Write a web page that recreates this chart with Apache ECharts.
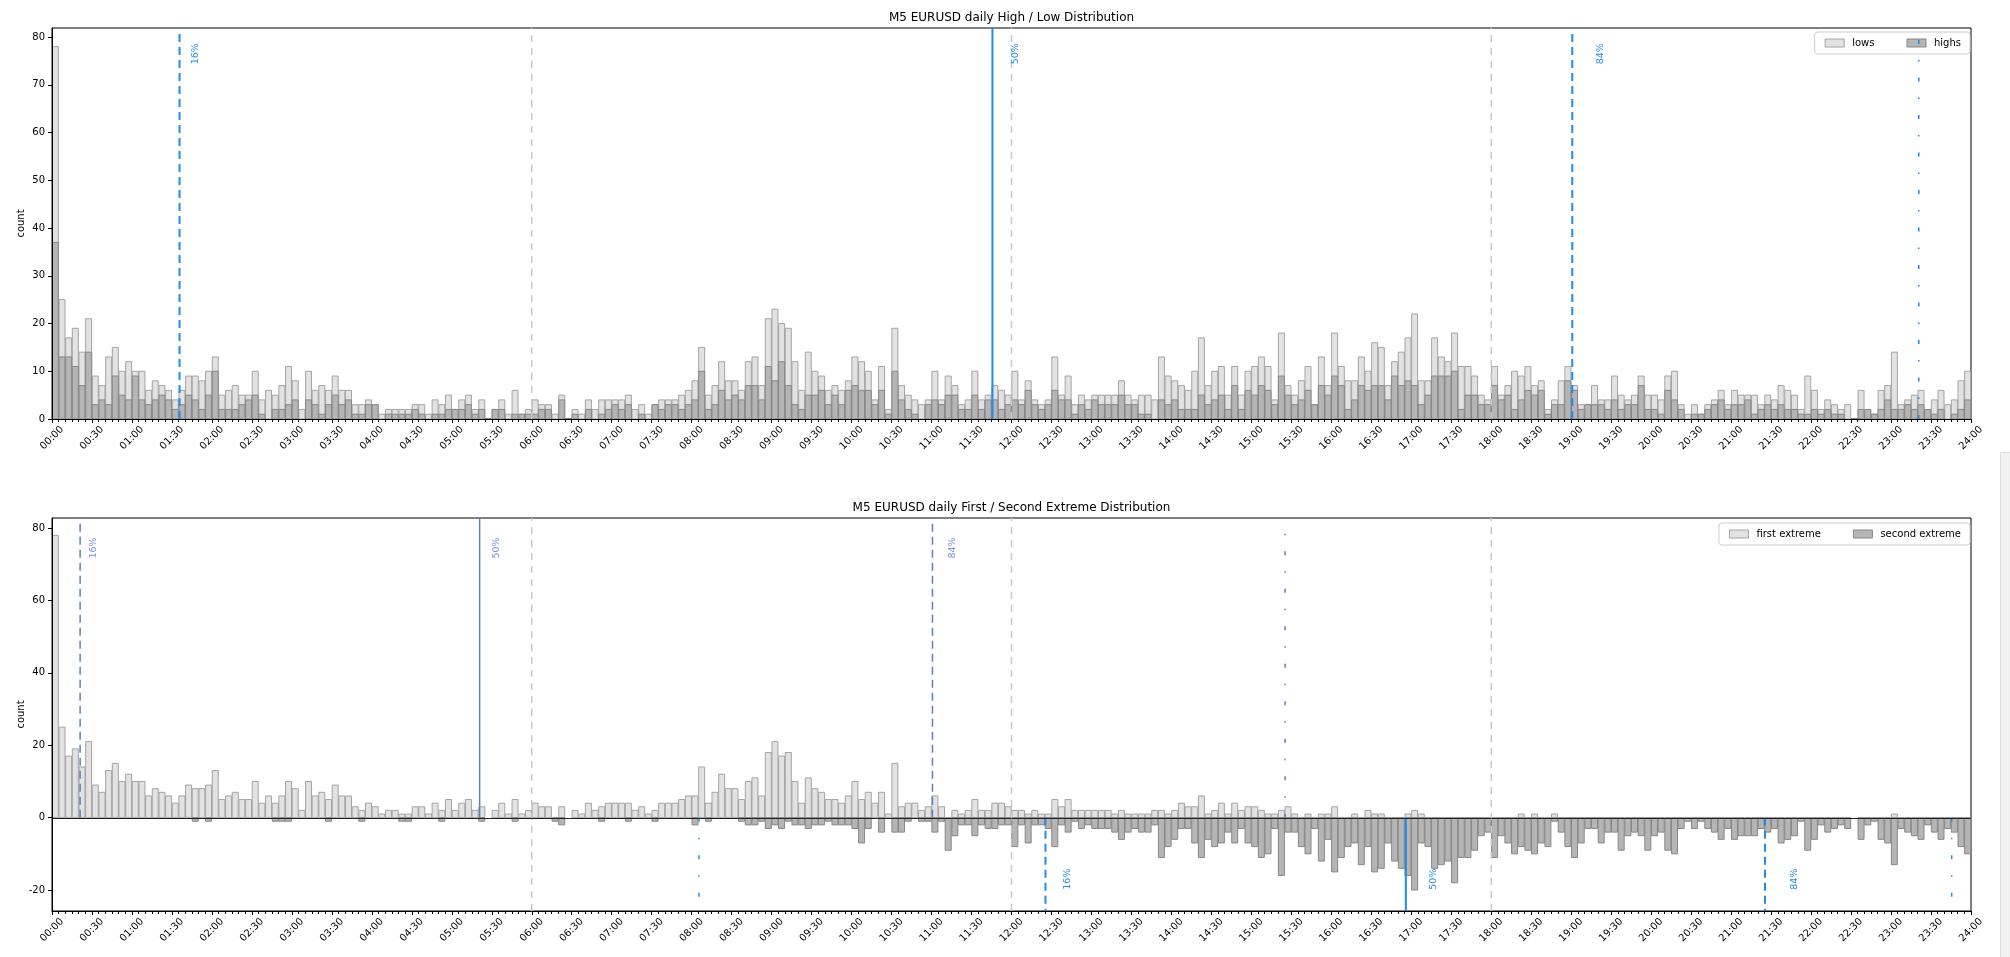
<!DOCTYPE html>
<html>
<head>
<meta charset="utf-8">
<title>M5 EURUSD daily distributions</title>
<script src="https://cdn.jsdelivr.net/npm/echarts@6/dist/echarts.min.js"></script>
<style>
  html, body { margin: 0; padding: 0; background: #ffffff; }
  #chart { width: 2010px; height: 957px; }
</style>
</head>
<body>
<div id="chart"></div>
<script>
// ---- data: 288 five-minute bins of the trading day ----
const BIN_MIN = 5;

const TICK_LABELS = [
  '00:00','00:30','01:00','01:30','02:00','02:30','03:00','03:30','04:00','04:30',
  '05:00','05:30','06:00','06:30','07:00','07:30','08:00','08:30','09:00','09:30',
  '10:00','10:30','11:00','11:30','12:00','12:30','13:00','13:30','14:00','14:30',
  '15:00','15:30','16:00','16:30','17:00','17:30','18:00','18:30','19:00','19:30',
  '20:00','20:30','21:00','21:30','22:00','22:30','23:00','23:30','24:00'
];

// count of days whose daily low / high fell in each bin
const LOWS = [
  78,25,17,19,14,21,9,7,13,15,10,12,10,10,6,8,7,6,4,6,9,9,8,10,13,5,6,7,5,5,10,4,6,5,7,11,8,2,10,6,7,6,9,6,6,3,3,4,
  3,1,2,2,2,2,3,3,1,4,3,5,2,4,5,2,4,0,2,4,1,6,1,2,4,3,3,1,5,0,2,1,4,2,4,4,4,4,5,2,3,1,3,4,4,4,5,6,
  8,15,5,7,12,8,8,6,12,13,7,21,23,20,19,12,6,14,10,9,6,7,6,8,13,12,10,4,11,2,19,7,5,4,3,4,10,4,9,7,3,4,10,4,5,7,6,5,
  10,4,8,4,3,4,13,5,9,3,5,4,5,5,5,5,8,5,4,5,5,4,13,9,8,7,6,10,17,7,10,11,5,11,5,10,11,13,11,4,18,7,5,8,11,3,13,7,
  18,11,8,8,13,10,16,15,7,12,14,17,22,8,8,17,13,12,18,11,11,9,5,4,11,5,7,10,9,11,7,8,2,4,8,11,7,3,3,7,4,4,9,5,4,5,9,5,
  5,4,9,10,3,1,3,1,3,4,6,3,6,5,5,5,3,5,4,7,6,5,2,9,6,2,4,3,2,3,0,6,2,1,6,7,14,3,4,5,6,2,4,6,3,4,8,10
];
const HIGHS = [
  37,13,13,11,7,14,3,4,3,9,5,4,9,4,3,4,5,4,2,3,5,4,2,5,10,2,2,2,3,4,5,1,0,2,2,3,4,0,4,3,1,3,5,3,4,1,1,3,
  3,0,1,1,1,1,2,1,0,1,1,2,2,2,3,1,2,0,2,2,0,1,1,1,1,2,2,0,4,0,1,0,2,0,1,2,3,2,3,0,1,0,3,2,3,3,2,3,
  4,10,2,3,6,4,5,4,7,7,4,11,8,12,7,3,2,5,5,6,3,5,3,6,7,6,6,3,6,1,10,4,2,1,0,3,4,3,5,5,2,2,5,2,4,4,2,3,
  4,3,6,3,2,3,6,4,4,1,3,2,4,3,3,3,5,3,3,1,1,0,4,3,4,2,2,2,5,3,4,5,2,7,2,6,5,7,6,3,9,5,3,4,6,3,7,5,
  9,7,2,4,7,6,7,7,4,9,7,8,7,3,5,9,9,9,10,2,5,5,3,3,7,4,5,2,4,6,5,6,1,3,3,8,6,2,3,3,3,2,4,2,3,3,7,2,
  2,1,6,4,2,0,1,1,2,3,4,2,3,3,4,1,2,3,2,3,2,2,1,1,2,1,2,1,1,0,0,2,2,1,2,4,2,2,3,2,3,2,1,2,0,1,2,4
];

// count of days whose first / second extreme fell in each bin
const FIRST_EXTREME = [
  78,25,17,19,14,21,9,7,13,15,10,12,10,10,6,8,7,6,4,6,9,8,8,9,13,5,6,7,5,5,10,4,6,4,6,10,8,2,10,6,7,5,9,6,6,3,2,4,
  3,1,2,2,1,1,3,3,1,4,2,5,2,4,5,2,3,0,2,4,1,5,1,2,4,3,3,0,3,0,2,1,4,2,3,4,4,4,4,2,3,1,2,4,4,4,5,6,
  6,14,4,7,12,8,8,5,10,11,6,18,21,17,18,10,4,11,8,7,5,5,4,6,10,5,7,4,7,1,15,3,4,4,2,3,6,3,0,2,1,2,5,2,2,4,4,3,
  2,2,1,2,1,1,5,3,5,2,2,2,2,2,2,1,2,1,1,1,1,2,2,1,2,4,3,3,6,1,2,4,1,4,2,3,3,2,1,1,2,3,1,0,1,0,1,1,
  3,0,0,1,0,2,1,1,0,0,0,1,2,1,0,0,0,0,0,0,0,0,0,0,0,0,0,0,1,0,1,0,0,1,0,0,0,0,0,0,0,0,0,0,0,0,0,0,
  0,0,0,0,0,0,0,0,0,0,0,0,0,0,0,0,0,0,0,0,0,0,0,0,0,0,0,0,0,0,0,0,0,0,0,0,1,0,0,0,0,0,0,0,0,0,0,0
];
const SECOND_EXTREME = [
  0,0,0,0,0,0,0,0,0,0,0,0,0,0,0,0,0,0,0,0,0,1,0,1,0,0,0,0,0,0,0,0,0,1,1,1,0,0,0,0,0,1,0,0,0,0,1,0,
  0,0,0,0,1,1,0,0,0,0,1,0,0,0,0,0,1,0,0,0,0,1,0,0,0,0,0,1,2,0,0,0,0,0,1,0,0,0,1,0,0,0,1,0,0,0,0,0,
  2,0,1,0,0,0,0,1,2,2,1,3,2,3,1,2,2,3,2,2,1,2,2,2,3,7,3,0,4,0,4,4,1,0,1,1,4,1,9,5,2,2,5,2,3,3,2,2,
  8,2,7,2,2,3,8,2,4,1,3,2,3,3,3,4,6,4,3,4,4,2,11,8,6,3,3,7,11,6,8,7,4,7,3,7,8,11,10,3,16,4,4,8,10,3,12,6,
  15,11,8,7,13,8,15,14,7,12,14,16,20,7,8,14,13,12,18,11,11,9,5,4,11,5,7,10,8,9,10,7,8,1,4,8,11,7,3,3,7,4,4,9,5,4,5,9,
  5,4,9,10,3,1,3,1,3,4,6,3,6,5,5,5,3,4,3,7,6,5,1,9,6,2,4,3,2,3,0,6,2,1,6,7,13,3,4,5,6,2,4,6,3,4,8,10
];

// time of day (minutes) of the 16% / 50% / 84% quantiles, plus the dash-dot markers
const PCT_LABELS = ['16%', '50%', '84%'];
const HL_PCT_MIN = [95.7, 705.7, 1140.8];
const HL_MARK_MIN = [1400.8];
const FIRST_PCT_MIN = [21.1, 320.9, 660.7];
const FIRST_MARK_MIN = [925.3];
const SECOND_PCT_MIN = [745.5, 1015.9, 1285.4];
const SECOND_MARK_MIN = [485.5, 1425.5];
const SESSION_MIN = [360, 720, 1080];

// ---- layout and styling ----
const FONT = 'DejaVu Sans';
const TOP_Y = [0, 81.9];
const BOT_Y = [-25.8, 82.8];
const GRID_LEFT = 52, GRID_W = 1919;

const LIGHT_BAR = { fill: '#e2e2e2', stroke: '#a4a4a4', lineWidth: 1 };
const DARK_BAR = { fill: '#b5b5b5', stroke: '#878787', lineWidth: 1 };
const BLUE = '#1f8ceb';
const SLATE = '#5f7fbf';
const SESSION_GRAY = '#c8c8c8';
const DASH = [8, 5];
const DASH_DOT = [4, 16, 1.5, 16];

function barRender(style, sign) {
  return function (params, api) {
    const x = api.value(0);
    const v = api.value(1) * sign;
    const a = api.coord([x + BIN_MIN * 0.05, 0]);
    const b = api.coord([x + BIN_MIN * 0.95, v]);
    return {
      type: 'rect',
      shape: { x: a[0], y: Math.min(a[1], b[1]), width: b[0] - a[0], height: Math.abs(b[1] - a[1]) },
      style: { fill: style.fill, stroke: style.stroke, lineWidth: style.lineWidth }
    };
  };
}

function markerRender(items) {
  return function (params, api) {
    const it = items[params.dataIndex];
    const children = [];
    if (it.kind === 'h') {
      const a = api.coord([it.x0, it.y]);
      const b = api.coord([it.x1, it.y]);
      const yy = Math.round(a[1]) + 0.5;
      children.push({ type: 'line', shape: { x1: a[0], y1: yy, x2: b[0], y2: yy },
        style: { stroke: it.color, lineWidth: it.width, fill: null } });
    } else {
      const a = api.coord([it.x, it.y0]);
      const b = api.coord([it.x, it.y1]);
      children.push({ type: 'line', shape: { x1: a[0], y1: a[1], x2: b[0], y2: b[1] },
        style: { stroke: it.color, lineWidth: it.width, fill: null, lineDash: it.dash || null } });
      if (it.label) {
        const p = api.coord([it.x, it.labelY]);
        children.push({ type: 'text', x: p[0] + it.labelDx, y: p[1], rotation: Math.PI / 2,
          style: { text: it.label, fill: it.labelColor, font: '9.5px "' + FONT + '"',
                   align: 'center', verticalAlign: 'middle' } });
      }
    }
    return { type: 'group', children: children };
  };
}

function pctLines(times, y0, y1, color, width, labelY, labelDx, labelColor) {
  return times.map(function (t, k) {
    return { kind: 'v', x: t, y0: y0, y1: y1, color: color, width: width,
             dash: k === 1 ? null : DASH, label: PCT_LABELS[k], labelY: labelY,
             labelDx: labelDx[k], labelColor: labelColor };
  });
}
function markLines(times, y0, y1, color) {
  return times.map(function (t) {
    return { kind: 'v', x: t, y0: y0, y1: y1, color: color, width: 1.5, dash: DASH_DOT };
  });
}
function sessionLines(range) {
  return SESSION_MIN.map(function (t) {
    return { kind: 'v', x: t, y0: range[0], y1: range[1], color: SESSION_GRAY, width: 1.5, dash: [7, 6] };
  });
}

const topMarkers = [].concat(
  sessionLines(TOP_Y),
  pctLines(HL_PCT_MIN, TOP_Y[0], TOP_Y[1], BLUE, 2, 76.5, [16, 23, 28], BLUE),
  markLines(HL_MARK_MIN, TOP_Y[0], TOP_Y[1], BLUE)
);
const botMarkers = [].concat(
  sessionLines(BOT_Y),
  pctLines(FIRST_PCT_MIN, 0, BOT_Y[1], SLATE, 1.5, 74.5, [13, 17, 20], '#6f92d6'),
  markLines(FIRST_MARK_MIN, 0, BOT_Y[1], '#6a6fc4'),
  pctLines(SECOND_PCT_MIN, 0, BOT_Y[0], BLUE, 2, -17, [22, 28, 30], BLUE),
  markLines(SECOND_MARK_MIN, 0, BOT_Y[0], BLUE),
  [{ kind: 'h', x0: 0, x1: 1440, y: 0, color: '#222222', width: 1 }]
);

// axes sit above the bars (z 3 vs 2) so the spines stay continuous
function xAxisFor(gridIndex) {
  return {
    type: 'value', gridIndex: gridIndex, min: 0, max: 1440, interval: 30, z: 3,
    axisLine: { show: true, onZero: false, lineStyle: { color: '#000', width: 1 } },
    axisTick: { show: true, length: 4, lineStyle: { color: '#000', width: 1 } },
    minorTick: { show: true, splitNumber: 6, length: 3, lineStyle: { color: '#000', width: 1 } },
    splitLine: { show: false }, minorSplitLine: { show: false },
    axisLabel: {
      formatter: function (v) { return TICK_LABELS[Math.round(v / 30)]; },
      rotate: 45, align: 'center', verticalAlign: 'middle', margin: 19,
      fontFamily: FONT, fontSize: 10, color: '#000'
    }
  };
}

function yAxisFor(gridIndex, range, step, values) {
  return {
    type: 'value', gridIndex: gridIndex, min: range[0], max: range[1], z: 3,
    minInterval: step, maxInterval: step,
    name: 'count', nameLocation: 'middle', nameGap: 26, nameRotate: 90, nameMoveOverlap: false,
    nameTextStyle: { fontFamily: FONT, fontSize: 10, color: '#000' },
    axisLine: { show: true, lineStyle: { color: '#000', width: 1 } },
    axisTick: { show: true, length: 4, customValues: values, lineStyle: { color: '#000' } },
    splitLine: { show: false },
    axisLabel: { customValues: values, margin: 7, fontFamily: FONT, fontSize: 10, color: '#000' }
  };
}

function legendFor(top, names, styles) {
  return {
    top: top, right: 40, orient: 'horizontal',
    padding: [6, 9, 6, 10], itemGap: 32, itemWidth: 19, itemHeight: 8,
    borderColor: '#cccccc', borderWidth: 1, borderRadius: 3, backgroundColor: '#ffffff',
    textStyle: { fontFamily: FONT, fontSize: 10, color: '#000', padding: [0, 0, 0, 3] },
    selectedMode: false,
    data: names.map(function (n, k) {
      return { name: n, icon: 'rect',
               itemStyle: { color: styles[k].fill, borderColor: styles[k].stroke, borderWidth: 1 } };
    })
  };
}

function barSeries(name, values, axisIdx, style, sign) {
  const points = [];
  values.forEach(function (v, i) { if (v !== 0) points.push([i * BIN_MIN, v]); });
  return {
    name: name, type: 'custom', xAxisIndex: axisIdx, yAxisIndex: axisIdx,
    renderItem: barRender(style, sign),
    itemStyle: { color: style.fill, borderColor: style.stroke },
    encode: { x: 0, y: 1 },
    data: points,
    silent: true, z: 2
  };
}
function markerSeries(items, axisIdx) {
  return {
    type: 'custom', xAxisIndex: axisIdx, yAxisIndex: axisIdx,
    renderItem: markerRender(items),
    data: items.map(function (it) { return [it.kind === 'h' ? it.x0 : it.x, 0]; }),
    encode: { x: 0, y: 1 },
    silent: true, z: 5
  };
}

const chart = echarts.init(document.getElementById('chart'), null, { renderer: 'canvas' });
chart.setOption({
  backgroundColor: '#ffffff',
  animation: false,
  textStyle: { fontFamily: FONT },
  title: [
    { text: 'M5 EURUSD daily High / Low Distribution', left: GRID_LEFT + GRID_W / 2, textAlign: 'center',
      top: 12, padding: 0, textStyle: { fontFamily: FONT, fontSize: 12, fontWeight: 'normal', color: '#000' } },
    { text: 'M5 EURUSD daily First / Second Extreme Distribution', left: GRID_LEFT + GRID_W / 2, textAlign: 'center',
      top: 502, padding: 0, textStyle: { fontFamily: FONT, fontSize: 12, fontWeight: 'normal', color: '#000' } }
  ],
  grid: [
    { left: GRID_LEFT, top: 28, width: GRID_W, height: 391, show: true, borderColor: '#000', borderWidth: 1, containLabel: false },
    { left: GRID_LEFT, top: 518, width: GRID_W, height: 393, show: true, borderColor: '#000', borderWidth: 1, containLabel: false }
  ],
  legend: [
    legendFor(32, ['lows', 'highs'], [LIGHT_BAR, DARK_BAR]),
    legendFor(523, ['first extreme', 'second extreme'], [LIGHT_BAR, DARK_BAR])
  ],
  xAxis: [xAxisFor(0), xAxisFor(1)],
  yAxis: [
    yAxisFor(0, TOP_Y, 10, [0, 10, 20, 30, 40, 50, 60, 70, 80]),
    yAxisFor(1, BOT_Y, 20, [-20, 0, 20, 40, 60, 80])
  ],
  series: [
    barSeries('lows', LOWS, 0, LIGHT_BAR, 1),
    barSeries('highs', HIGHS, 0, DARK_BAR, 1),
    markerSeries(topMarkers, 0),
    barSeries('first extreme', FIRST_EXTREME, 1, LIGHT_BAR, 1),
    barSeries('second extreme', SECOND_EXTREME, 1, DARK_BAR, -1),
    markerSeries(botMarkers, 1)
  ],
  graphic: [
    { type: 'rect', left: 2000, top: 452, shape: { width: 10, height: 505 },
      style: { fill: '#f1f1f1', stroke: '#dddddd', lineWidth: 1 }, silent: true }
  ]
});
</script>
</body>
</html>
